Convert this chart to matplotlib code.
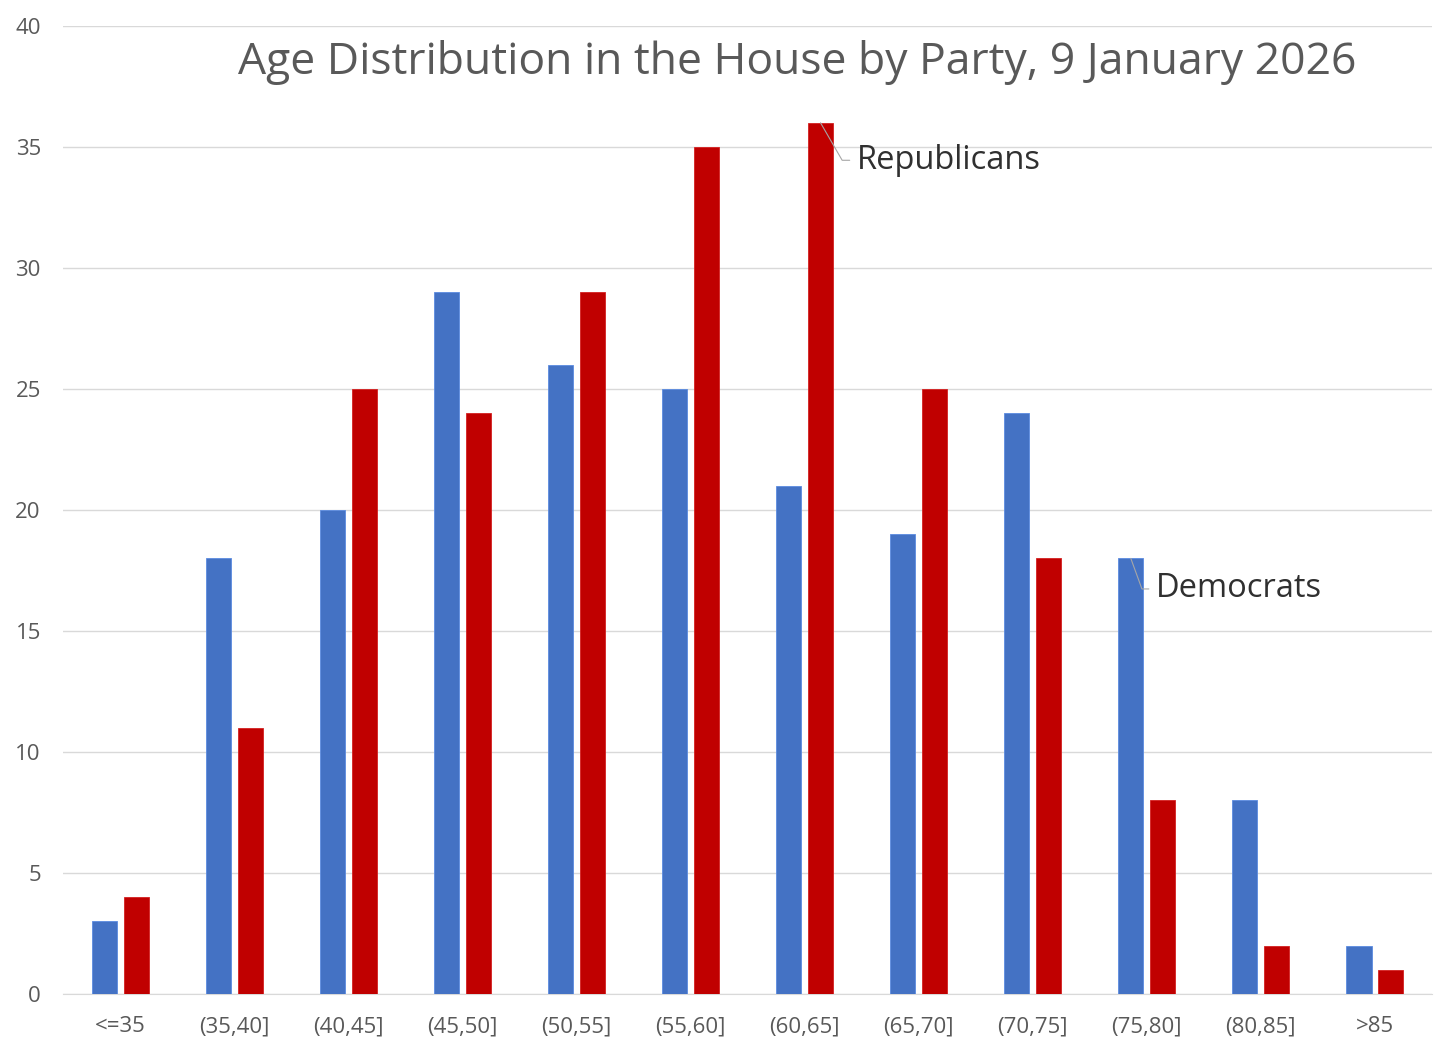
import numpy as np
import matplotlib
matplotlib.use("Agg")
import matplotlib.pyplot as plt

plt.rcParams['font.family'] = ['Open Sans', 'DejaVu Sans']

# data
age_groups = ['<=35', '(35,40]', '(40,45]', '(45,50]', '(50,55]', '(55,60]',
              '(60,65]', '(65,70]', '(70,75]', '(75,80]', '(80,85]', '>85']
democrats = [3, 18, 20, 29, 26, 25, 21, 19, 24, 18, 8, 2]
republicans = [4, 11, 25, 24, 29, 35, 36, 25, 18, 8, 2, 1]

blue = '#4472C4'
red = '#C00000'
text_col = '#595959'

fig = plt.figure(figsize=(14.56, 10.56), dpi=100)
ax = fig.add_axes([0.0433, 0.0587, 0.9402, 0.9167])

x = np.arange(len(age_groups))
w = 0.22
off = 0.14
ax.bar(x - off, democrats, w, color=blue, edgecolor='#5B8BE0', linewidth=0.6, zorder=3)
ax.bar(x + off, republicans, w, color=red, edgecolor='#D42020', linewidth=0.6, zorder=3)

ax.set_xlim(-0.5, len(age_groups) - 0.5)
ax.set_ylim(0, 40)
ax.set_yticks(np.arange(0, 41, 5))
ax.set_xticks(x)
ax.set_xticklabels(age_groups)
ax.yaxis.grid(True, color='#D9D9D9', linewidth=1.0, zorder=0)
ax.set_axisbelow(True)
for s in ['top', 'right', 'left']:
    ax.spines[s].set_visible(False)
ax.spines['bottom'].set_color('#D9D9D9')
ax.tick_params(axis='both', length=0, labelsize=16, colors=text_col)
ax.tick_params(axis='x', pad=16)
ax.tick_params(axis='y', pad=16)

ax.text(0.536, 0.962, 'Age Distribution in the House by Party, 9 January 2026',
        transform=ax.transAxes, ha='center', va='center', fontsize=32, color=text_col)

# series labels with leader lines
ri = 6
ax.annotate('Republicans', xy=(ri + off, republicans[ri]), xytext=(26, -27),
            textcoords='offset points', ha='left', va='center', fontsize=23.5, color='#303030',
            arrowprops=dict(arrowstyle='-', color='#A6A6A6', lw=0.8, shrinkA=3, shrinkB=0,
                            connectionstyle='angle,angleA=0,angleB=-60'))
di = 9
ax.annotate('Democrats', xy=(di - off, democrats[di]), xytext=(18, -22),
            textcoords='offset points', ha='left', va='center', fontsize=23.5, color='#303030',
            arrowprops=dict(arrowstyle='-', color='#A6A6A6', lw=0.8, shrinkA=3, shrinkB=0,
                            connectionstyle='angle,angleA=0,angleB=-70'))

fig.savefig('out.png', dpi=100)
